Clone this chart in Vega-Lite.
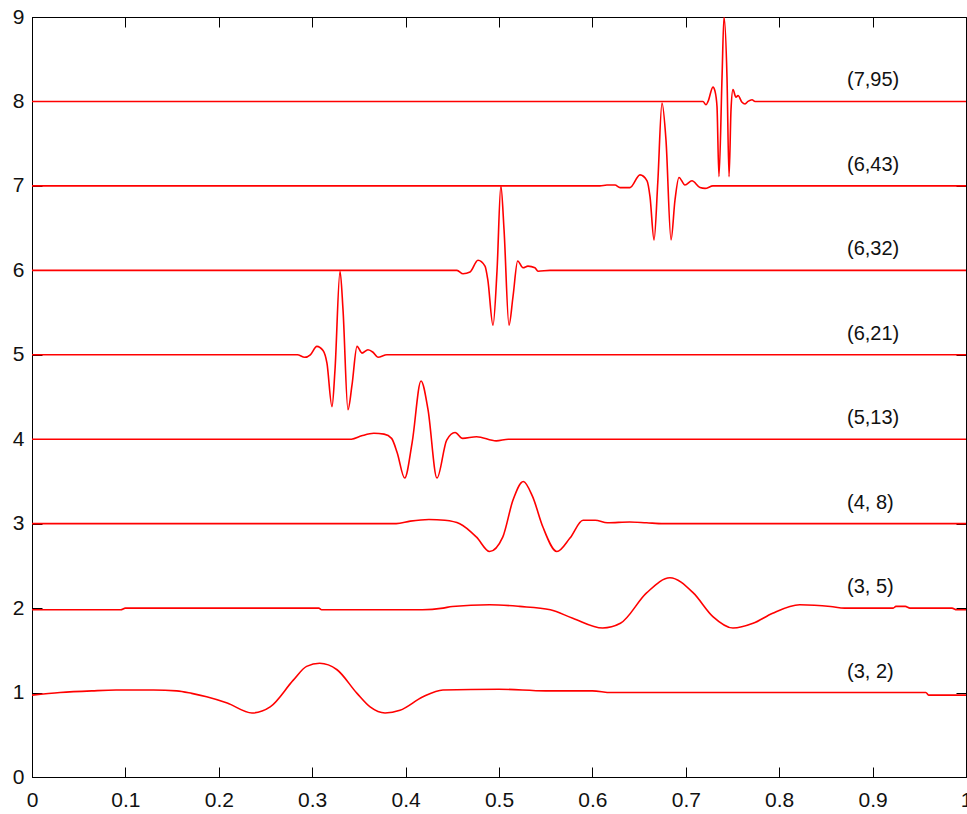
{
  "$schema": "https://vega.github.io/schema/vega-lite/v6.json",
  "autosize": {"type": "none"},
  "padding": {"left": 32, "top": 17, "right": 1, "bottom": 37},
  "width": 934,
  "height": 760,
  "background": "white",
  "view": {"stroke": "#000", "strokeWidth": 1},
  "config": {
    "font": "Liberation Sans",
    "axis": {
      "grid": false,
      "domainColor": "#000",
      "domainWidth": 1,
      "tickColor": "#000",
      "tickWidth": 1,
      "labelFont": "Liberation Sans",
      "labelFontSize": 21,
      "labelColor": "#111",
      "title": null
    }
  },
  "datasets": {
    "curves": [
      {"s":"(3,2)","x":0,"y":0.97},{"s":"(3,2)","x":0.03,"y":1.0},{"s":"(3,2)","x":0.064,"y":1.02},{"s":"(3,2)","x":0.09,"y":1.03},{"s":"(3,2)","x":0.13,"y":1.03},{"s":"(3,2)","x":0.155,"y":1.02},{"s":"(3,2)","x":0.171,"y":0.99},{"s":"(3,2)","x":0.187,"y":0.95},{"s":"(3,2)","x":0.209,"y":0.876},{"s":"(3,2)","x":0.2355,"y":0.758},{"s":"(3,2)","x":0.255,"y":0.83},{"s":"(3,2)","x":0.28,"y":1.15},{"s":"(3,2)","x":0.294,"y":1.31},{"s":"(3,2)","x":0.308,"y":1.347},{"s":"(3,2)","x":0.3266,"y":1.27},{"s":"(3,2)","x":0.348,"y":0.99},{"s":"(3,2)","x":0.362,"y":0.83},{"s":"(3,2)","x":0.378,"y":0.758},{"s":"(3,2)","x":0.394,"y":0.79},{"s":"(3,2)","x":0.4186,"y":0.95},{"s":"(3,2)","x":0.44,"y":1.03},{"s":"(3,2)","x":0.5,"y":1.04},{"s":"(3,2)","x":0.55,"y":1.02},{"s":"(3,2)","x":0.6,"y":1.02},{"s":"(3,2)","x":0.62,"y":1.0},{"s":"(3,2)","x":0.957,"y":1.0},{"s":"(3,2)","x":0.96,"y":0.97},{"s":"(3,2)","x":1.0,"y":0.97},

      {"s":"(3,5)","x":0,"y":1.98},{"s":"(3,5)","x":0.095,"y":1.98},{"s":"(3,5)","x":0.1,"y":2.0},{"s":"(3,5)","x":0.307,"y":2.0},{"s":"(3,5)","x":0.31,"y":1.98},{"s":"(3,5)","x":0.418,"y":1.98},{"s":"(3,5)","x":0.44,"y":2.0},{"s":"(3,5)","x":0.45,"y":2.02},{"s":"(3,5)","x":0.49,"y":2.04},{"s":"(3,5)","x":0.522,"y":2.02},{"s":"(3,5)","x":0.555,"y":1.98},{"s":"(3,5)","x":0.579,"y":1.88},{"s":"(3,5)","x":0.611,"y":1.764},{"s":"(3,5)","x":0.63,"y":1.82},{"s":"(3,5)","x":0.658,"y":2.18},{"s":"(3,5)","x":0.683,"y":2.36},{"s":"(3,5)","x":0.708,"y":2.18},{"s":"(3,5)","x":0.729,"y":1.9},{"s":"(3,5)","x":0.7505,"y":1.764},{"s":"(3,5)","x":0.772,"y":1.82},{"s":"(3,5)","x":0.793,"y":1.94},{"s":"(3,5)","x":0.822,"y":2.04},{"s":"(3,5)","x":0.855,"y":2.02},{"s":"(3,5)","x":0.87,"y":2.0},{"s":"(3,5)","x":0.922,"y":2.0},{"s":"(3,5)","x":0.925,"y":2.02},{"s":"(3,5)","x":0.935,"y":2.02},{"s":"(3,5)","x":0.94,"y":2.0},{"s":"(3,5)","x":0.985,"y":2.0},{"s":"(3,5)","x":0.99,"y":1.98},{"s":"(3,5)","x":1.0,"y":1.98},

      {"s":"(4,8)","x":0,"y":3.0},{"s":"(4,8)","x":0.39,"y":3.0},{"s":"(4,8)","x":0.405,"y":3.03},{"s":"(4,8)","x":0.425,"y":3.05},{"s":"(4,8)","x":0.442,"y":3.04},{"s":"(4,8)","x":0.458,"y":3.0},{"s":"(4,8)","x":0.476,"y":2.84},{"s":"(4,8)","x":0.49,"y":2.67},{"s":"(4,8)","x":0.504,"y":2.84},{"s":"(4,8)","x":0.515,"y":3.28},{"s":"(4,8)","x":0.526,"y":3.5},{"s":"(4,8)","x":0.536,"y":3.32},{"s":"(4,8)","x":0.547,"y":2.96},{"s":"(4,8)","x":0.562,"y":2.67},{"s":"(4,8)","x":0.576,"y":2.83},{"s":"(4,8)","x":0.59,"y":3.04},{"s":"(4,8)","x":0.603,"y":3.04},{"s":"(4,8)","x":0.616,"y":3.01},{"s":"(4,8)","x":0.64,"y":3.02},{"s":"(4,8)","x":0.658,"y":3.01},{"s":"(4,8)","x":0.676,"y":3.0},{"s":"(4,8)","x":1.0,"y":3.0},

      {"s":"(5,13)","x":0,"y":4.0},{"s":"(5,13)","x":0.342,"y":4.0},{"s":"(5,13)","x":0.353,"y":4.04},{"s":"(5,13)","x":0.366,"y":4.07},{"s":"(5,13)","x":0.377,"y":4.06},{"s":"(5,13)","x":0.385,"y":4.01},{"s":"(5,13)","x":0.391,"y":3.84},{"s":"(5,13)","x":0.399,"y":3.54},{"s":"(5,13)","x":0.407,"y":3.96},{"s":"(5,13)","x":0.4165,"y":4.69},{"s":"(5,13)","x":0.424,"y":4.35},{"s":"(5,13)","x":0.4336,"y":3.54},{"s":"(5,13)","x":0.444,"y":3.99},{"s":"(5,13)","x":0.453,"y":4.08},{"s":"(5,13)","x":0.461,"y":4.01},{"s":"(5,13)","x":0.476,"y":4.03},{"s":"(5,13)","x":0.497,"y":3.98},{"s":"(5,13)","x":0.51,"y":4.0},{"s":"(5,13)","x":1.0,"y":4.0},

      {"s":"(6,21)","x":0,"y":5.0},{"s":"(6,21)","x":0.284,"y":5.0},{"s":"(6,21)","x":0.292,"y":4.97},{"s":"(6,21)","x":0.298,"y":5.0},{"s":"(6,21)","x":0.305,"y":5.1},{"s":"(6,21)","x":0.3116,"y":5.05},{"s":"(6,21)","x":0.3158,"y":4.9},{"s":"(6,21)","x":0.3212,"y":4.385},{"s":"(6,21)","x":0.3244,"y":4.82},{"s":"(6,21)","x":0.3298,"y":5.99},{"s":"(6,21)","x":0.333,"y":5.53},{"s":"(6,21)","x":0.3383,"y":4.35},{"s":"(6,21)","x":0.3426,"y":4.64},{"s":"(6,21)","x":0.348,"y":5.1},{"s":"(6,21)","x":0.3533,"y":5.02},{"s":"(6,21)","x":0.3597,"y":5.06},{"s":"(6,21)","x":0.3651,"y":5.03},{"s":"(6,21)","x":0.3704,"y":4.97},{"s":"(6,21)","x":0.38,"y":5.0},{"s":"(6,21)","x":1.0,"y":5.0},

      {"s":"(6,32)","x":0,"y":6.0},{"s":"(6,32)","x":0.455,"y":6.0},{"s":"(6,32)","x":0.4615,"y":5.96},{"s":"(6,32)","x":0.469,"y":5.98},{"s":"(6,32)","x":0.4775,"y":6.12},{"s":"(6,32)","x":0.485,"y":6.05},{"s":"(6,32)","x":0.488,"y":5.89},{"s":"(6,32)","x":0.4936,"y":5.35},{"s":"(6,32)","x":0.4979,"y":6.0},{"s":"(6,32)","x":0.502,"y":7.0},{"s":"(6,32)","x":0.5054,"y":6.48},{"s":"(6,32)","x":0.5107,"y":5.35},{"s":"(6,32)","x":0.515,"y":5.69},{"s":"(6,32)","x":0.52,"y":6.11},{"s":"(6,32)","x":0.5257,"y":6.03},{"s":"(6,32)","x":0.531,"y":6.05},{"s":"(6,32)","x":0.5385,"y":6.03},{"s":"(6,32)","x":0.5418,"y":5.99},{"s":"(6,32)","x":0.5546,"y":6.0},{"s":"(6,32)","x":1.0,"y":6.0},

      {"s":"(6,43)","x":0,"y":7.0},{"s":"(6,43)","x":0.608,"y":7.0},{"s":"(6,43)","x":0.6156,"y":7.01},{"s":"(6,43)","x":0.6242,"y":7.01},{"s":"(6,43)","x":0.6296,"y":6.98},{"s":"(6,43)","x":0.6403,"y":6.98},{"s":"(6,43)","x":0.651,"y":7.13},{"s":"(6,43)","x":0.6585,"y":7.06},{"s":"(6,43)","x":0.6617,"y":6.87},{"s":"(6,43)","x":0.666,"y":6.36},{"s":"(6,43)","x":0.67,"y":7.04},{"s":"(6,43)","x":0.6745,"y":7.98},{"s":"(6,43)","x":0.6788,"y":7.54},{"s":"(6,43)","x":0.6842,"y":6.36},{"s":"(6,43)","x":0.6884,"y":6.83},{"s":"(6,43)","x":0.6927,"y":7.1},{"s":"(6,43)","x":0.6991,"y":7.01},{"s":"(6,43)","x":0.7066,"y":7.06},{"s":"(6,43)","x":0.7152,"y":6.98},{"s":"(6,43)","x":0.7206,"y":6.97},{"s":"(6,43)","x":0.7291,"y":7.0},{"s":"(6,43)","x":1.0,"y":7.0},

      {"s":"(7,95)","x":0,"y":8.0},{"s":"(7,95)","x":0.7184,"y":8.0},{"s":"(7,95)","x":0.7216,"y":7.96},{"s":"(7,95)","x":0.7238,"y":8.0},{"s":"(7,95)","x":0.7291,"y":8.17},{"s":"(7,95)","x":0.7313,"y":8.12},{"s":"(7,95)","x":0.7334,"y":7.94},{"s":"(7,95)","x":0.7355,"y":7.11},{"s":"(7,95)","x":0.7388,"y":8.29},{"s":"(7,95)","x":0.7409,"y":9.0},{"s":"(7,95)","x":0.7441,"y":8.29},{"s":"(7,95)","x":0.7463,"y":7.11},{"s":"(7,95)","x":0.7484,"y":7.9},{"s":"(7,95)","x":0.7505,"y":8.14},{"s":"(7,95)","x":0.7537,"y":8.05},{"s":"(7,95)","x":0.7559,"y":8.07},{"s":"(7,95)","x":0.7602,"y":7.99},{"s":"(7,95)","x":0.7634,"y":7.97},{"s":"(7,95)","x":0.7666,"y":8.0},{"s":"(7,95)","x":0.7709,"y":8.02},{"s":"(7,95)","x":0.7741,"y":8.0},{"s":"(7,95)","x":1.0,"y":8.0}
    ],
    "labels": [
      {"label":"(3, 2)","level":1},
      {"label":"(3, 5)","level":2},
      {"label":"(4, 8)","level":3},
      {"label":"(5,13)","level":4},
      {"label":"(6,21)","level":5},
      {"label":"(6,32)","level":6},
      {"label":"(6,43)","level":7},
      {"label":"(7,95)","level":8}
    ]
  },
  "resolve": {"axis": {"x": "independent", "y": "independent"}},
  "layer": [
    {
      "data": {"name": "curves"},
      "mark": {"type": "line", "color": "#ff0000", "strokeWidth": 1.6, "interpolate": "monotone", "clip": true},
      "encoding": {
        "x": {
          "field": "x", "type": "quantitative",
          "scale": {"domain": [0, 1], "nice": false, "zero": false},
          "axis": {
            "orient": "bottom",
            "values": [0, 0.1, 0.2, 0.3, 0.4, 0.5, 0.6, 0.7, 0.8, 0.9, 1],
            "format": "~g",
            "tickSize": -10,
            "labelPadding": 22,
            "labelFlush": false,
            "labelOverlap": false,
            "labelBound": false
          }
        },
        "y": {
          "field": "y", "type": "quantitative",
          "scale": {"domain": [0, 9], "nice": false, "zero": false},
          "axis": {
            "orient": "left",
            "values": [0, 1, 2, 3, 4, 5, 6, 7, 8, 9],
            "format": "d",
            "tickSize": -10,
            "labelPadding": 18,
            "labelFlush": false,
            "labelOverlap": false,
            "labelBound": false
          }
        },
        "detail": {"field": "s", "type": "nominal"}
      }
    },
    {
      "data": {"name": "labels"},
      "mark": {"type": "text", "align": "left", "baseline": "middle", "dy": -21, "fontSize": 20, "font": "Liberation Sans", "color": "#111"},
      "encoding": {
        "x": {
          "datum": 0.8726, "type": "quantitative",
          "axis": {
            "orient": "top",
            "values": [0, 0.1, 0.2, 0.3, 0.4, 0.5, 0.6, 0.7, 0.8, 0.9, 1],
            "labels": false,
            "tickSize": -10
          }
        },
        "y": {
          "field": "level", "type": "quantitative",
          "axis": {
            "orient": "right",
            "values": [0, 1, 2, 3, 4, 5, 6, 7, 8, 9],
            "labels": false,
            "tickSize": -10
          }
        },
        "text": {"field": "label", "type": "nominal"}
      }
    }
  ]
}
